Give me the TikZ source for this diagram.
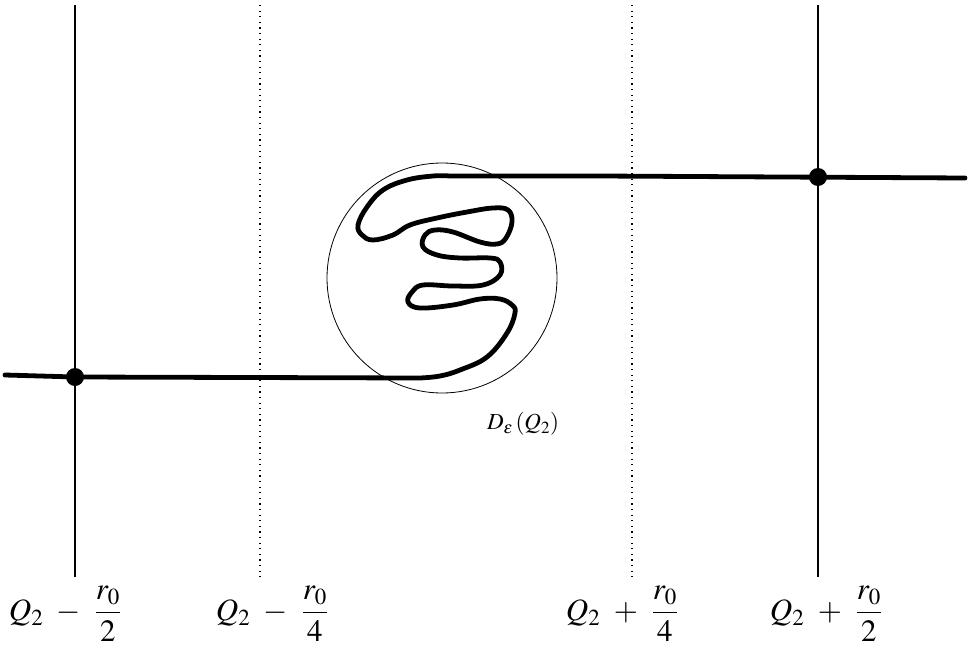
\documentclass[tikz,border=0pt]{standalone}
\usepackage{amsmath}
\usepackage{mathptmx}
\begin{document}
\begin{tikzpicture}[x=1pt,y=-1pt,
  vline/.style={line width=1.3pt},
  dline/.style={line width=1.1pt,dash pattern=on 1.1pt off 4.5pt},
  curve/.style={line width=4.8pt,line join=round,line cap=round},
  ptdot/.style={circle,fill=black,inner sep=0pt,minimum size=18pt},
  lab/.style={font=\fontsize{31}{34}\selectfont,inner sep=0pt}]
\useasboundingbox (0,0) rectangle (969,653);
% vertical lines
\coordinate (v1t) at (75,5);   \coordinate (v1b) at (75,577);
\coordinate (v2t) at (260,5);  \coordinate (v2b) at (260,577);
\coordinate (v3t) at (632,5);  \coordinate (v3b) at (632,577);
\coordinate (v4t) at (818,5);  \coordinate (v4b) at (818,577);
\draw[vline] (v1t) -- (v1b);
\draw[vline] (v4t) -- (v4b);
\draw[dline] (v2t) -- (v2b);
\draw[dline] (v3t) -- (v3b);
% disc
\node[circle,draw,line width=0.8pt,minimum size=230pt,inner sep=0pt] (disc) at (442,278) {};
% curve
\coordinate (cl) at (5,375);
\coordinate (cr) at (965,178);
\draw[curve] (cl) -- (75,377) -- (420,378)
  plot[smooth,tension=0.65] coordinates {(420,378) (440,376) (460,370) (487,357) (507,333) (515,313) (512,305) (500,299) (480,299) (453,305) (420,308) (408,302) (412,292) (423,285) (453,286) (483,285) (500,275) (500,262) (490,258) (460,258) (437,255) (423,247) (425,235) (435,230) (453,232) (480,242) (497,244) (506,238) (512,222) (508,210) (493,208) (467,212) (437,218) (410,225) (393,235) (373,240) (362,235) (358,225) (367,207) (383,190) (407,180) (433,176) (450,176)}
  -- (600,176) -- (cr);
% points
\node[ptdot] (p1) at (75,377) {};
\node[ptdot] (p2) at (818,177) {};
% labels
\node[font=\fontsize{23}{26}\selectfont,inner sep=0pt] (dl) at (523,424) {$D_{\boldsymbol{\varepsilon}}\,(Q_2)$};
\node[lab] (l1) at (65,614) {$Q_2\ -\ \dfrac{r_0}{2}$};
\node[lab] (l2) at (272,614) {$Q_2\ -\ \dfrac{r_0}{4}$};
\node[lab] (l3) at (622,614) {$Q_2\ +\ \dfrac{r_0}{4}$};
\node[lab] (l4) at (826,614) {$Q_2\ +\ \dfrac{r_0}{2}$};
\end{tikzpicture}
\end{document}
